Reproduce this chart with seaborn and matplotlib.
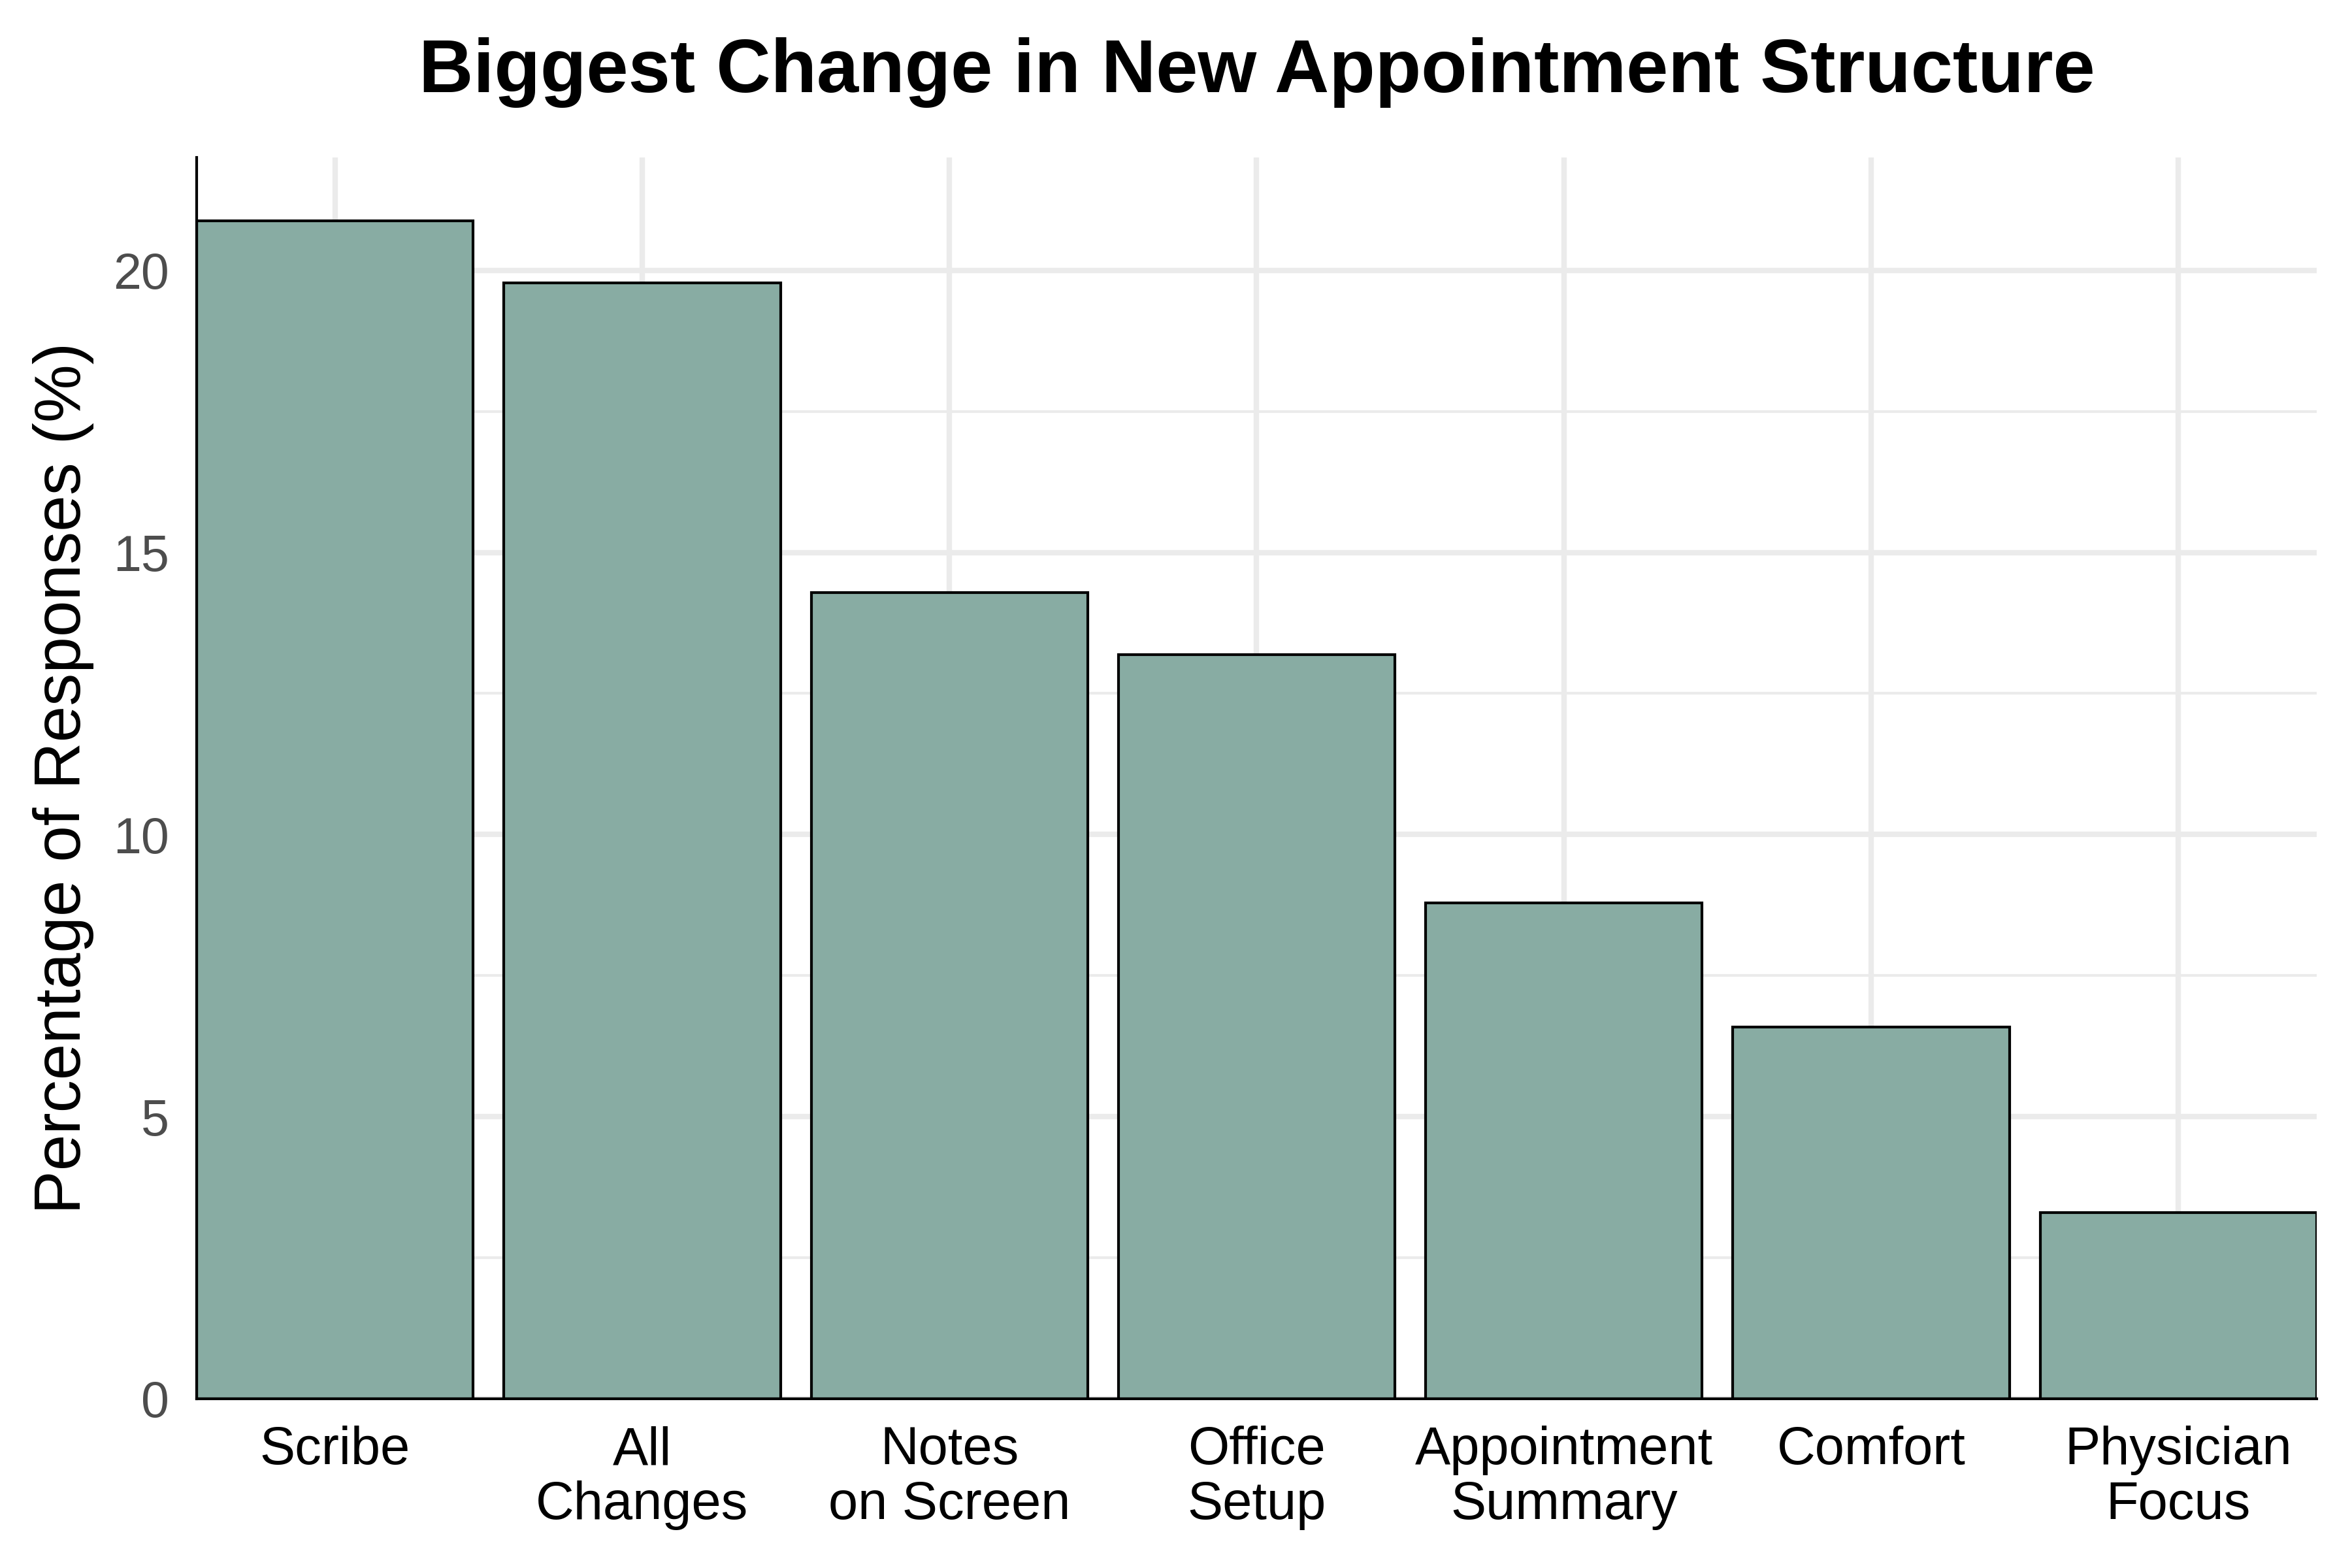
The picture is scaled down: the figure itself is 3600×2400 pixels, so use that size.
import numpy as np
import pandas as pd
import matplotlib.pyplot as plt
import seaborn as sns

# data (percent of responses)
categories = ["Scribe", "All\nChanges", "Notes\non Screen", "Office\nSetup",
              "Appointment\nSummary", "Comfort", "Physician\nFocus"]
percent = [20.88, 19.78, 14.29, 13.19, 8.79, 6.59, 3.30]
yticks = [0, 5, 10, 15, 20]
minor_ticks = [2.5, 7.5, 12.5, 17.5]

df = pd.DataFrame({"category": categories, "percent": percent})

sns.set_theme(style="white")
plt.rcParams['font.family'] = ['Liberation Sans', 'DejaVu Sans']

fig, ax = plt.subplots(figsize=(12, 8), dpi=300)
fig.subplots_adjust(left=0.0836, right=0.985, top=0.8995, bottom=0.108)

sns.barplot(data=df, x="category", y="percent", color="#88ACA3",
            edgecolor="black", linewidth=1.0, width=0.9, saturation=1, ax=ax)

ax.set_xlim(-0.45, len(categories) - 0.55)
ax.set_ylim(0, 22)
ax.set_yticks(yticks)
ax.set_yticks(minor_ticks, minor=True)

# ggplot-ish grid
ax.set_axisbelow(True)
ax.grid(which="major", axis="both", color="#EBEBEB", linewidth=2.0)
ax.grid(which="minor", axis="y", color="#EBEBEB", linewidth=1.0)

for side in ["top", "right"]:
    ax.spines[side].set_visible(False)
for side in ["left", "bottom"]:
    ax.spines[side].set_color("black")
    ax.spines[side].set_linewidth(1.0)

ax.tick_params(axis="y", which="both", length=0, labelsize=18.5, labelcolor="#4D4D4D", pad=10)
ax.tick_params(axis="x", length=0, labelsize=19.5, labelcolor="black", pad=10)
for lab in ax.get_xticklabels():
    lab.set_linespacing(1.12)

ax.set_xlabel("")
ax.set_ylabel("Percentage of Responses (%)", fontsize=24, labelpad=7, color="black")
ax.set_title("Biggest Change in New Appointment Structure", fontsize=27.7,
             fontweight="bold", pad=24, color="black")

plt.savefig("out.png", dpi=300)
